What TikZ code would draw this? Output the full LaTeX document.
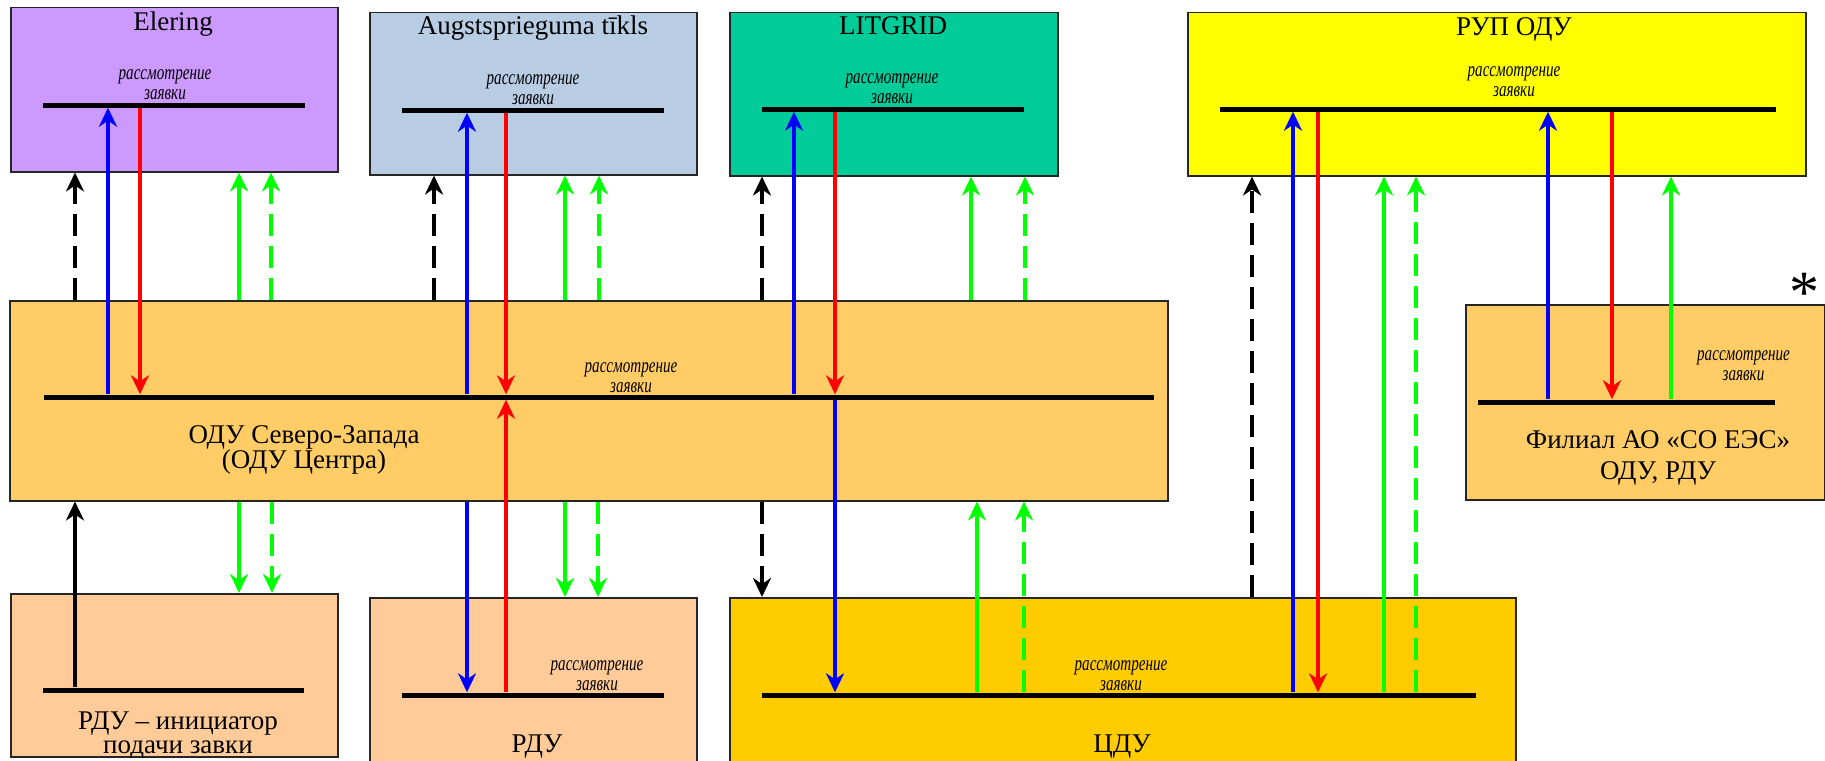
\documentclass[tikz,border=0pt]{standalone}
\usepackage{fontspec}
\setmainfont{Liberation Serif}
\newfontfamily\lblfont[FakeStretch=0.72]{Liberation Serif}
\usetikzlibrary{arrows.meta, positioning}

\definecolor{elcol}{RGB}{204,153,255}
\definecolor{aucol}{RGB}{184,204,228}
\definecolor{licol}{RGB}{0,204,153}
\definecolor{rupcol}{RGB}{255,255,0}
\definecolor{oducol}{RGB}{255,204,102}
\definecolor{rducol}{RGB}{255,204,153}
\definecolor{cducol}{RGB}{255,204,0}

\begin{document}
\begin{tikzpicture}[
    x=1pt, y=-1pt,
    box/.style={rectangle, draw=black!85, line width=1.5pt, fill=#1, anchor=north west, inner sep=0pt},
    bar/.style={rectangle, fill=black, inner sep=0pt, minimum height=5pt},
    ttl/.style={font=\fontsize{27}{24}\selectfont, anchor=base, inner sep=0pt},
    maintext/.style={font=\fontsize{27}{24}\selectfont, align=center, inner sep=0pt},
    lbl/.style={font=\lblfont\itshape\fontsize{21}{20}\selectfont, align=center, inner sep=0pt},
    arr/.style={-{Stealth[length=19pt, width=18pt, inset=6pt]}, line width=3.5pt, draw=#1},
    darr/.style={arr=#1, dash pattern=on 22pt off 10pt}
]
    \useasboundingbox (0,0) rectangle (1825,760);

    % Upper Tier
    \node[box=elcol, minimum width=327pt, minimum height=164pt] (elering) at (10,7) {};
    \node[box=aucol, minimum width=327pt, minimum height=162pt] (augst) at (369,12) {};
    \node[box=licol, minimum width=328pt, minimum height=163pt] (litgrid) at (729,12) {};
    \node[box=rupcol, minimum width=618pt, minimum height=163pt] (rup) at (1187,12) {};
    \node[ttl] at (173,31) {Elering};
    \node[ttl] at (533,35) {Augstsprieguma tīkls};
    \node[ttl] at (893,35) {LITGRID};
    \node[ttl] at (1514,36) {РУП ОДУ};

    % Middle Tier
    \node[box=oducol, minimum width=1158pt, minimum height=200pt] (odu) at (9,300) {};
    \node[box=oducol, minimum width=359pt, minimum height=195pt] (filial) at (1465,304) {};
    \node[maintext] (odutext) at (304,450) {ОДУ Северо-Запада\\(ОДУ Центра)};
    \node[maintext, font=\fontsize{27}{31}\selectfont] (filtext) at (1658,458) {Филиал АО «СО ЕЭС»\\ОДУ, РДУ};
    \node[font=\fontsize{60}{60}\selectfont, inner sep=0pt] (star) at (1804,293) {*};

    % Lower Tier
    \node[box=rducol, minimum width=327pt, minimum height=163pt] (rduinit) at (10,593) {};
    \node[box=rducol, minimum width=327pt, minimum height=170pt] (rdu) at (369,597) {};
    \node[box=cducol, minimum width=786pt, minimum height=170pt] (cdu) at (729,597) {};
    \node[maintext] (initext) at (178,735) {РДУ – инициатор\\подачи завки};
    \node[ttl] (rdutext) at (537,752) {РДУ};
    \node[ttl] (cdutext) at (1122,752) {ЦДУ};

    % Bars
    \node[bar, minimum width=262pt] (elbar) at (174,105) {};
    \node[bar, minimum width=262pt] (aubar) at (533,110) {};
    \node[bar, minimum width=262pt] (libar) at (893,109) {};
    \node[bar, minimum width=556pt] (rupbar) at (1498,109) {};
    \node[bar, minimum width=1110pt] (odubar) at (599,397) {};
    \node[bar, minimum width=297pt] (filbar) at (1626.5,402) {};
    \node[bar, minimum width=261pt] (inibar) at (173.5,690) {};
    \node[bar, minimum width=262pt] (rdubar) at (533,695) {};
    \node[bar, minimum width=714pt] (cdubar) at (1119,695) {};

    % Review labels
    \node[lbl, above=2.5pt of elbar, xshift=-9pt] (ellbl) {рассмотрение\\заявки};
    \node[lbl, above=2.5pt of aubar] (aulbl) {рассмотрение\\заявки};
    \node[lbl, above=2.5pt of libar, xshift=-1pt] (lilbl) {рассмотрение\\заявки};
    \node[lbl, above=9.5pt of rupbar, xshift=16pt] (ruplbl) {рассмотрение\\заявки};
    \node[lbl, above=1.5pt of odubar, xshift=32pt] (odulbl) {рассмотрение\\заявки};
    \node[lbl, above=18.5pt of filbar, xshift=117pt] (fillbl) {рассмотрение\\заявки};
    \node[lbl, above=1.5pt of rdubar, xshift=64pt] (rdulbl) {рассмотрение\\заявки};
    \node[lbl, above=1.5pt of cdubar, xshift=2pt] (cdulbl) {рассмотрение\\заявки};

    % Elering - ODU
    \draw[darr=black] (75,0 |- odu.north) -- (75,0 |- elering.south);
    \draw[arr=blue] (108,0 |- odubar.north) -- (108,0 |- elbar.south);
    \draw[arr=red] (140,0 |- elbar.south) -- (140,0 |- odubar.north);
    \draw[arr=green] (239,0 |- odu.north) -- (239,0 |- elering.south);
    \draw[darr=green] (271,0 |- odu.north) -- (271,0 |- elering.south);

    % Augstsprieguma tikls - ODU
    \draw[darr=black] (434,0 |- odu.north) -- (434,0 |- augst.south);
    \draw[arr=blue] (467,0 |- odubar.north) -- (467,0 |- aubar.south);
    \draw[arr=red] (506,0 |- aubar.south) -- (506,0 |- odubar.north);
    \draw[arr=green] (565,0 |- odu.north) -- (565,0 |- augst.south);
    \draw[darr=green] (599,0 |- odu.north) -- (599,0 |- augst.south);

    % LITGRID - ODU
    \draw[darr=black] (762,0 |- odu.north) -- (762,0 |- litgrid.south);
    \draw[arr=blue] (794,0 |- odubar.north) -- (794,0 |- libar.south);
    \draw[arr=red] (835,0 |- libar.south) -- (835,0 |- odubar.north);
    \draw[arr=green] (971,0 |- odu.north) -- (971,0 |- litgrid.south);
    \draw[darr=green] (1025,0 |- odu.north) -- (1025,0 |- litgrid.south);

    % ODU - RDU initiator
    \draw[arr=black] (75,0 |- inibar.north) -- (75,0 |- odu.south);
    \draw[arr=green] (239,0 |- odu.south) -- (239,0 |- rduinit.north);
    \draw[darr=green] (272,0 |- odu.south) -- (272,0 |- rduinit.north);

    % ODU - RDU
    \draw[arr=blue] (467,0 |- odu.south) -- (467,0 |- rdubar.north);
    \draw[arr=red] (506,0 |- rdubar.north) -- (506,0 |- odubar.south);
    \draw[arr=green] (565,0 |- odu.south) -- (565,0 |- rdu.north);
    \draw[darr=green] (598,0 |- odu.south) -- (598,0 |- rdu.north);

    % ODU - CDU
    \draw[darr=black] (762,0 |- odu.south) -- (762,0 |- cdu.north);
    \draw[arr=blue] (835,0 |- odubar.south) -- (835,0 |- cdubar.north);
    \draw[arr=green] (977,0 |- cdubar.north) -- (977,0 |- odu.south);
    \draw[darr=green] (1024,0 |- cdubar.north) -- (1024,0 |- odu.south);

    % CDU - RUP ODU
    \draw[darr=black] (1252,0 |- cdu.north) -- (1252,0 |- rup.south);
    \draw[arr=blue] (1293,0 |- cdubar.north) -- (1293,0 |- rupbar.south);
    \draw[arr=red] (1318,0 |- rupbar.south) -- (1318,0 |- cdubar.north);
    \draw[arr=green] (1384,0 |- cdubar.north) -- (1384,0 |- rup.south);
    \draw[darr=green] (1416,0 |- cdubar.north) -- (1416,0 |- rup.south);

    % Filial - RUP ODU
    \draw[arr=blue] (1548,0 |- filbar.north) -- (1548,0 |- rupbar.south);
    \draw[arr=red] (1612,0 |- rupbar.south) -- (1612,0 |- filbar.north);
    \draw[arr=green] (1671,0 |- filbar.north) -- (1671,0 |- rup.south);

\end{tikzpicture}
\end{document}
